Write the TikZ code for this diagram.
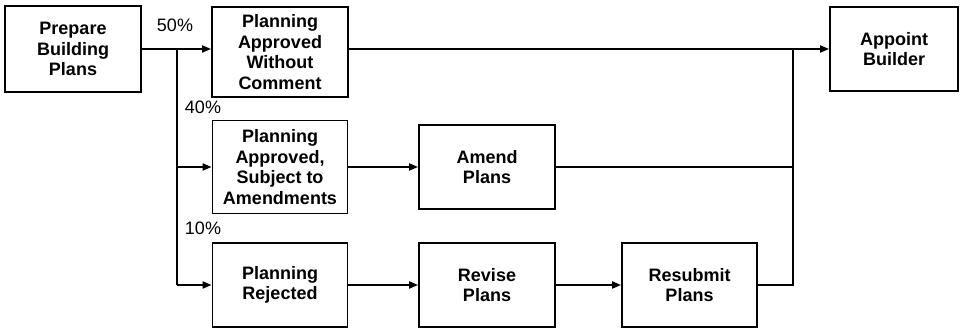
\documentclass[tikz,border=0pt]{standalone}
\usepackage{fontspec}
\setmainfont{Liberation Sans}
\usetikzlibrary{arrows.meta}
\begin{document}
\begin{tikzpicture}[x=1pt,y=-1pt,
  stepbox/.style={draw, line width=1.8pt, align=center, inner sep=0pt,
    font=\fontsize{18}{20.5}\selectfont\bfseries},
  flow/.style={line width=1.8pt},
  arr/.style={flow, -{Triangle[length=9pt,width=7pt]}},
  pct/.style={font=\fontsize{18}{20}\selectfont, inner sep=0pt}]
\useasboundingbox (0,0) rectangle (960,328);

% process boxes
\node[stepbox, minimum width=136pt, minimum height=86pt] (prep) at (73,49) {Prepare\\Building\\Plans};
\node[stepbox, minimum width=136pt, minimum height=90pt] (wc) at (280,52) {Planning\\Approved\\Without\\Comment};
\node[stepbox, minimum width=135pt, minimum height=93pt] (sub) at (280,167) {Planning\\Approved,\\Subject to\\Amendments};
\node[stepbox, minimum width=135pt, minimum height=84pt] (rej) at (280,285) {Planning\\Rejected};
\node[stepbox, minimum width=136pt, minimum height=84pt] (amend) at (487,167) {Amend\\Plans};
\node[stepbox, minimum width=136pt, minimum height=84pt] (revise) at (487,285) {Revise\\Plans};
\node[stepbox, minimum width=135pt, minimum height=84pt] (resub) at (689.5,285) {Resubmit\\Plans};
\node[stepbox, minimum width=128pt, minimum height=84pt] (appoint) at (894,49) {Appoint\\Builder};

% branch point after the plans are prepared
\coordinate (split) at (177,49);
\coordinate (splitB) at (177,285);
\coordinate (merge) at (793,49);
\coordinate (mergeB) at (793,285);

% probability labels
\node[pct] (p50) at (175,25) {50\%};
\node[pct] (p40) at (203,107) {40\%};
\node[pct] (p10) at (203,228) {10\%};

% outgoing branches
\draw[flow] (prep.east) -- (split);
\draw[flow] (split) -- (splitB);
\draw[arr] (split) -- (wc.west |- split);
\draw[arr] (split |- sub) -- (sub.west);
\draw[arr] (splitB) -- (rej.west);

% follow-up steps
\draw[arr] (sub.east) -- (amend.west);
\draw[arr] (rej.east) -- (revise.west);
\draw[arr] (revise.east) -- (resub.west);

% merging back to the builder
\draw[flow] (resub.east) -- (mergeB) -- (merge);
\draw[flow] (amend.east) -- (merge |- amend);
\draw[arr] (wc.east |- merge) -- (appoint.west);
\end{tikzpicture}
\end{document}
